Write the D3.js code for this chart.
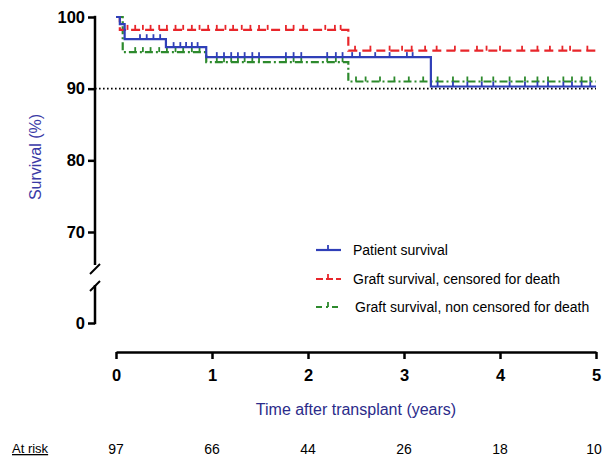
<!DOCTYPE html>
<html>
<head>
<meta charset="utf-8">
<script src="https://cdn.jsdelivr.net/npm/d3@7"></script>
<style>
  body { margin: 0; background: #fff; }
  svg { display: block; font-family: "Liberation Sans", Arial, sans-serif; }
</style>
</head>
<body>
<div id="chart"></div>
<script>
// Kaplan-Meier steps (time in years, survival in %)
const patientTimes = [0, 0.04, 0.09, 0.52, 0.94, 3.28]
const patientSurv = [100, 99.0, 96.9, 95.8, 94.4, 90.3]
const graftCensTimes = [0, 0.04, 2.42]
const graftCensSurv = [100, 98.2, 95.3]
const graftAllTimes = [0, 0.07, 0.94, 2.42]
const graftAllSurv = [100, 95.1, 93.7, 91.0]

// censored observations (years)
const patientCensored = [0.25, 0.32, 0.39, 0.46, 0.6, 0.67, 0.73, 0.79, 0.85,
  1.05, 1.125, 1.2, 1.27, 1.34, 1.42, 1.49, 1.77, 1.85, 1.93, 2.2, 2.29, 2.36, 2.46, 2.54, 2.7, 2.85, 3.03, 3.09,
  3.35, 3.51, 3.66, 3.81, 3.93, 4.1, 4.26, 4.39, 4.5, 4.66, 4.75, 4.85, 4.94]
const graftCensCensored = [0.12, 0.2, 0.28, 0.36, 0.45, 0.53, 0.62, 0.7, 0.79, 0.87, 0.96, 1.05, 1.14, 1.22,
  1.31, 1.4, 1.49, 1.58, 1.77, 1.85, 1.95, 2.18, 2.28, 2.34,
  2.49, 2.65, 2.85, 2.98, 3.08, 3.22, 3.34, 3.53, 3.76, 3.86, 4.0, 4.23, 4.39, 4.52, 4.65, 4.73, 4.91]
const graftAllCensored = [0.2, 0.28, 0.36, 0.45, 0.53, 0.62, 0.7, 0.79, 0.87,
  1.05, 1.125, 1.2, 1.27, 1.34, 1.42, 1.49, 1.77, 1.85, 1.93, 2.2, 2.29, 2.36,
  2.5, 2.6, 2.75, 2.9, 3.05, 3.2, 3.35, 3.51, 3.66, 3.81, 3.93, 4.1, 4.26, 4.39, 4.5, 4.66, 4.75, 4.85, 4.94]

const xTicks = [0, 1, 2, 3, 4, 5]
const yTicks = [70, 80, 90, 100]
const atRisk = [97, 66, 44, 26, 18, 10]
const seriesNames = ['Patient survival', 'Graft survival, censored for death', 'Graft survival, non censored for death']

const width = 603, height = 458
const svg = d3.select('#chart').append('svg').attr('width', width).attr('height', height)

const x = d3.scaleLinear().domain([0, 5]).range([116, 596])
const y = d3.scaleLinear().domain([70, 100]).range([232, 17])
const yLow = d3.scaleLinear().domain([0, 10]).range([323, 288])
const axisX = 95, axisY = 352

const series = [
  { name: seriesNames[0], t: patientTimes, s: patientSurv, c: patientCensored, color: '#2f3fb8', dash: null },
  { name: seriesNames[1], t: graftCensTimes, s: graftCensSurv, c: graftCensCensored, color: '#e8262b', dash: '9,5' },
  { name: seriesNames[2], t: graftAllTimes, s: graftAllSurv, c: graftAllCensored, color: '#2d8a2d', dash: '8,3,2,3' }
]

// 90% reference
svg.append('line')
  .attr('x1', axisX).attr('x2', x(5))
  .attr('y1', y(90)).attr('y2', y(90))
  .attr('stroke', '#000').attr('stroke-width', 1.6)
  .attr('stroke-dasharray', '1.6,2.4')

const line = d3.line().x(d => x(d[0])).y(d => y(d[1])).curve(d3.curveStepAfter)

function survAt(d, t) {
  let v = d.s[0]
  d.t.forEach((tt, i) => { if (tt <= t) v = d.s[i] })
  return v
}

// draw green first, then red, then blue on top
for (const d of [series[2], series[1], series[0]]) {
  const pts = d.t.map((t, i) => [t, d.s[i]])
  pts.push([5, d.s[d.s.length - 1]])
  svg.append('path')
    .attr('d', line(pts))
    .attr('fill', 'none')
    .attr('stroke', d.color)
    .attr('stroke-width', 2.2)
    .attr('stroke-dasharray', d.dash)
  svg.append('g').selectAll('line')
    .data(d.c)
    .join('line')
    .attr('x1', t => x(t)).attr('x2', t => x(t))
    .attr('y1', t => y(survAt(d, t))).attr('y2', t => y(survAt(d, t)) - 5)
    .attr('stroke', d.color).attr('stroke-width', 1.8)
}

// y axis (broken)
const yAxis = svg.append('g').attr('transform', `translate(${axisX},0)`)
  .call(d3.axisLeft(y).tickValues(yTicks).tickSize(7).tickSizeOuter(0))
yAxis.select('.domain').remove()
const yAxis2 = svg.append('g').attr('transform', `translate(${axisX},0)`)
  .call(d3.axisLeft(yLow).tickValues([0]).tickSize(7).tickSizeOuter(0))
yAxis2.select('.domain').remove()
svg.selectAll('g.tick line').attr('stroke-width', 2.5)
svg.selectAll('g.tick text')
  .attr('font-size', 16.5).attr('font-weight', 'bold')
  .attr('font-family', '"Liberation Sans", Arial, sans-serif').attr('fill', '#000')

svg.append('line').attr('x1', axisX).attr('x2', axisX).attr('y1', y(100) - 1.2).attr('y2', 265)
  .attr('stroke', '#000').attr('stroke-width', 2.5)
svg.append('line').attr('x1', axisX).attr('x2', axisX).attr('y1', 285).attr('y2', yLow(0) + 1.2)
  .attr('stroke', '#000').attr('stroke-width', 2.5)
svg.append('line').attr('x1', axisX - 5).attr('x2', axisX + 5).attr('y1', 274).attr('y2', 264)
  .attr('stroke', '#000').attr('stroke-width', 2)
svg.append('line').attr('x1', axisX - 5).attr('x2', axisX + 5).attr('y1', 291).attr('y2', 281)
  .attr('stroke', '#000').attr('stroke-width', 2)

// x axis
const xAxis = svg.append('g').attr('transform', `translate(0,${axisY})`)
  .call(d3.axisBottom(x).tickValues(xTicks).tickFormat(d3.format('d')).tickSize(7).tickSizeOuter(0).tickPadding(10))
xAxis.select('.domain').attr('stroke-width', 2.5)
xAxis.selectAll('.tick line').attr('stroke-width', 2.5)
xAxis.selectAll('.tick text')
  .attr('font-size', 16.5).attr('font-weight', 'bold')
  .attr('font-family', '"Liberation Sans", Arial, sans-serif').attr('fill', '#000')

// titles
svg.append('text')
  .attr('transform', 'translate(41,157) rotate(-90)')
  .attr('text-anchor', 'middle')
  .attr('font-size', 16).attr('fill', '#3a3aa6')
  .text('Survival (%)')
svg.append('text')
  .attr('x', 356).attr('y', 415)
  .attr('text-anchor', 'middle')
  .attr('font-size', 16).attr('fill', '#2b2b8a')
  .text('Time after transplant (years)')

// legend
const legend = svg.append('g')
series.forEach((d, i) => {
  const ly = [250, 279, 307][i]
  legend.append('line')
    .attr('x1', 316).attr('x2', 341).attr('y1', ly).attr('y2', ly)
    .attr('stroke', d.color).attr('stroke-width', 2.2)
    .attr('stroke-dasharray', i === 0 ? null : (i === 1 ? '7,3' : '6,4,2,4'))
  legend.append('line')
    .attr('x1', 328).attr('x2', 328).attr('y1', ly).attr('y2', ly - 5)
    .attr('stroke', d.color).attr('stroke-width', 1.8)
  legend.append('text')
    .attr('x', i === 2 ? 355 : 353).attr('y', ly + 5)
    .attr('font-size', 14).attr('fill', '#000')
    .text(d.name)
})

// at risk table
svg.append('text')
  .attr('x', 12).attr('y', 453)
  .attr('font-size', 13).attr('fill', '#000')
  .attr('text-decoration', 'underline')
  .text('At risk')
svg.append('g').selectAll('text')
  .data(atRisk)
  .join('text')
  .attr('x', (d, i) => Math.min(x(xTicks[i]), 594))
  .attr('y', 454)
  .attr('text-anchor', 'middle')
  .attr('font-size', 14).attr('fill', '#000')
  .text(d => d)
</script>
</body>
</html>
